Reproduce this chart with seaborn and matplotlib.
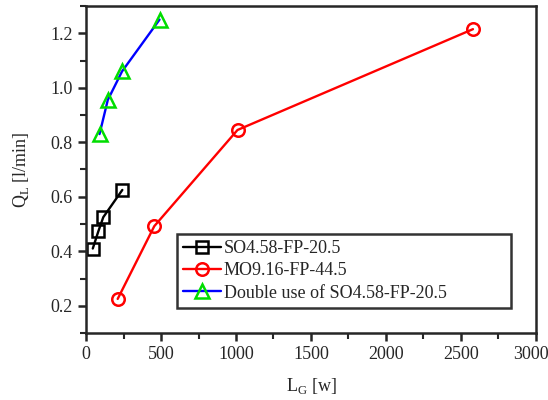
import matplotlib
matplotlib.use("Agg")
import matplotlib.pyplot as plt
import matplotlib.transforms as mtransforms
from matplotlib.ticker import MultipleLocator
import numpy as np
import pandas as pd
import seaborn as sns

# values
so_lg = [45, 82, 115, 242]
so_ql = [0.41, 0.473, 0.525, 0.625]
mo_lg = [211, 455, 1010, 2580]
mo_ql = [0.225, 0.492, 0.845, 1.215]
dbl_lg = [90, 145, 240, 490]
dbl_ql = [0.83, 0.955, 1.06, 1.25]

x_ticks = [0, 500, 1000, 1500, 2000, 2500, 3000]
y_ticks = [0.2, 0.4, 0.6, 0.8, 1.0, 1.2]

labels = ["SO4.58-FP-20.5", "MO9.16-FP-44.5", "Double use of SO4.58-FP-20.5"]

df = pd.concat([
    pd.DataFrame({"LG": so_lg, "QL": so_ql, "series": labels[0]}),
    pd.DataFrame({"LG": mo_lg, "QL": mo_ql, "series": labels[1]}),
    pd.DataFrame({"LG": dbl_lg, "QL": dbl_ql, "series": labels[2]}),
])

line_colors = {labels[0]: "black", labels[1]: "red", labels[2]: "blue"}
edge_colors = {labels[0]: "black", labels[1]: "red", labels[2]: "#00dd00"}
markers = {labels[0]: "s", labels[1]: "o", labels[2]: "^"}
msizes = {labels[0]: 8, labels[1]: 9, labels[2]: 10}

sns.set_style("ticks")
plt.rcParams["font.family"] = ["Liberation Serif", "DejaVu Serif"]
plt.rcParams["mathtext.fontset"] = "custom"
plt.rcParams["mathtext.rm"] = "Liberation Serif"

fig = plt.figure(figsize=(5.48, 4.0), dpi=100)
ax = fig.add_axes([0.157, 0.1675, 0.821, 0.8175])

for name in labels:
    sub = df[df["series"] == name]
    sns.lineplot(
        data=sub, x="LG", y="QL",
        sort=False,
        color=line_colors[name],
        marker=markers[name],
        markersize=msizes[name],
        markerfacecolor="none",
        markeredgecolor=edge_colors[name],
        markeredgewidth=1.8,
        linewidth=1.7,
        label=name,
        ax=ax,
    )

ax.set_xlim(0, 3000)
ax.set_ylim(0.1, 1.3)
ax.xaxis.set_minor_locator(MultipleLocator(250))
ax.yaxis.set_minor_locator(MultipleLocator(0.1))
ax.tick_params(which="major", length=6, width=1.8, labelsize=13, direction="out")
ax.tick_params(which="minor", length=4, width=1.5, direction="out")
ax.set_yticks(y_ticks)
# the last x label sits at the figure edge; draw it separately, nudged left
ax.set_xticks(x_ticks, [str(t) for t in x_ticks[:-1]] + [""])
shift = mtransforms.ScaledTranslation(9 / 72, -9.5 / 72, fig.dpi_scale_trans)
ax.text(x_ticks[-1], 0, str(x_ticks[-1]), fontsize=13, ha="right", va="top",
        transform=ax.get_xaxis_transform() + shift)
for sp in ax.spines.values():
    sp.set_linewidth(1.8)

ax.set_xlabel(r"L$_{\mathrm{G}}$ [w]", fontsize=13, labelpad=9)
ax.set_ylabel(r"Q$_{\mathrm{L}}$ [l/min]", fontsize=13, labelpad=14)

leg = ax.legend(loc="lower left", bbox_to_anchor=(0.202, 0.0765, 0.742, 0.2),
                mode="expand", fontsize=13,
                frameon=True, fancybox=False, edgecolor="black",
                handlelength=2.1, handletextpad=0.15, borderpad=0.35,
                labelspacing=0.3, borderaxespad=0)
leg.get_frame().set_linewidth(1.8)

fig.savefig("out.png", dpi=100)
